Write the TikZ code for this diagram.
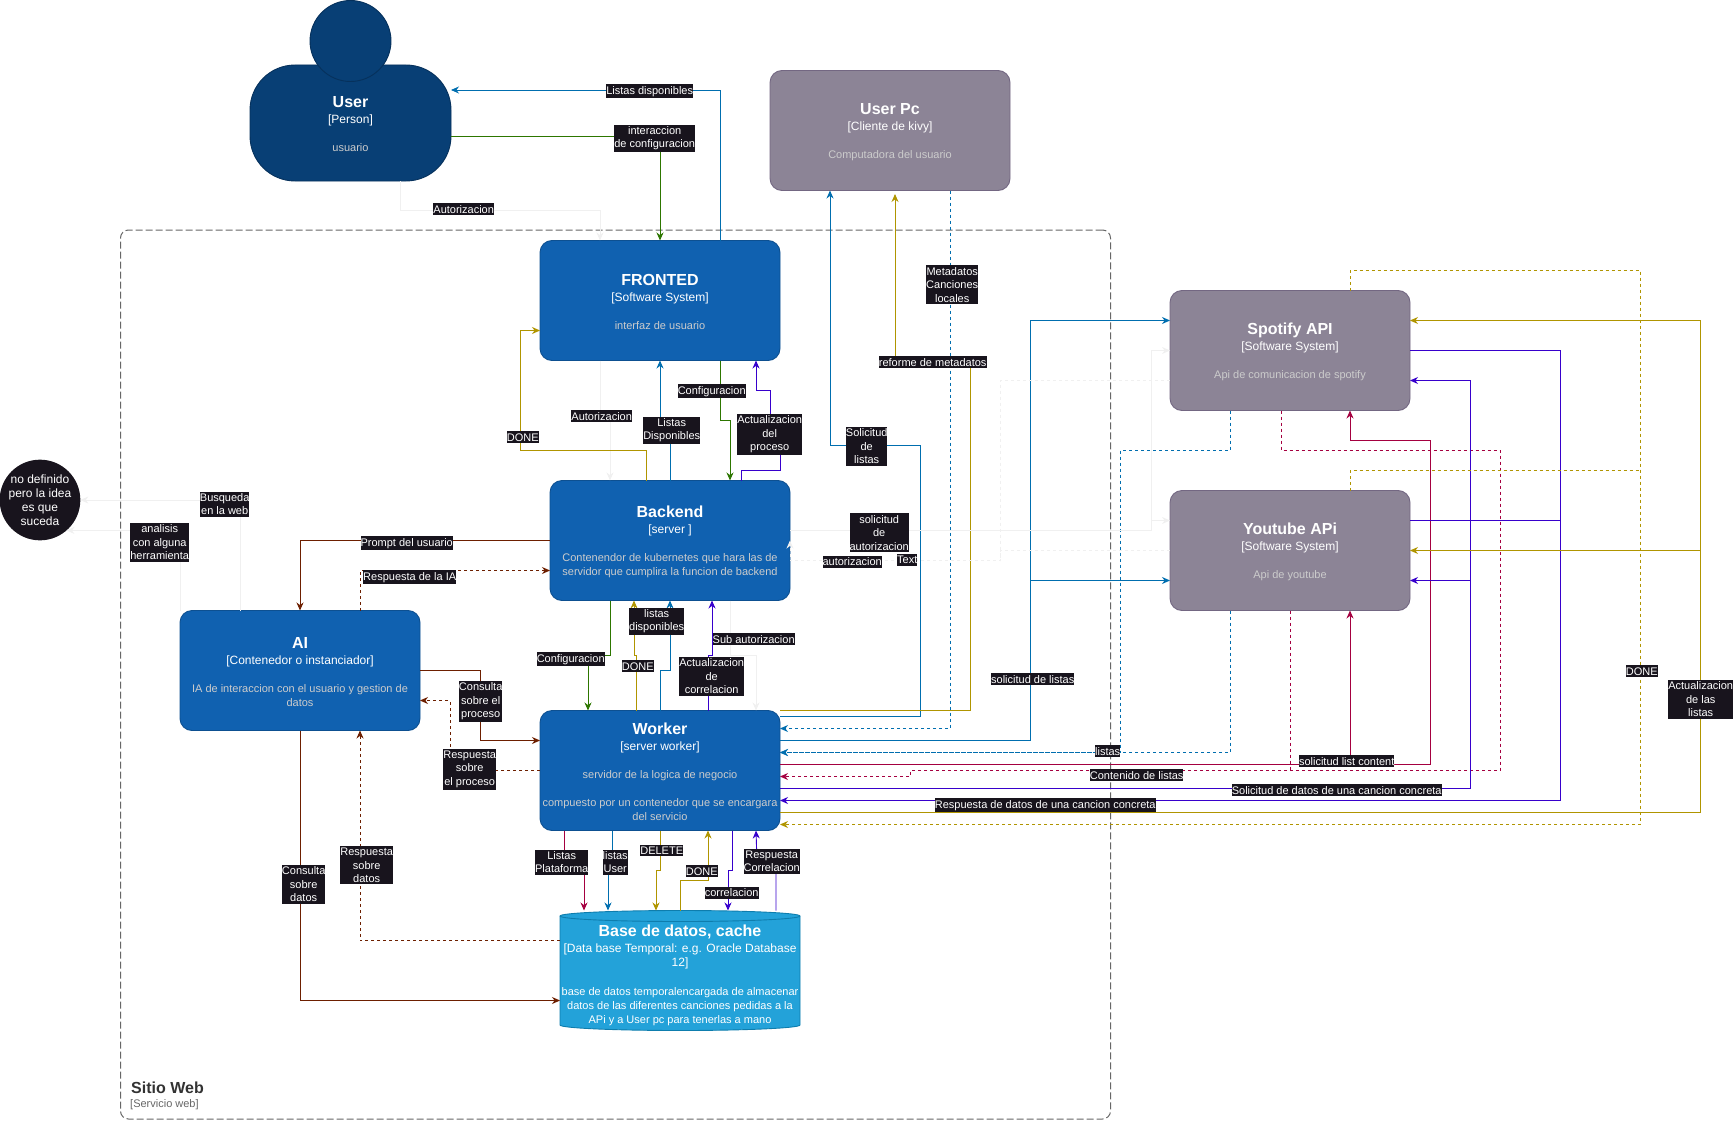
\documentclass[tikz,border=0pt]{standalone}
\usepackage{fontspec}
\setmainfont{Liberation Sans}
\usetikzlibrary{arrows.meta}
\colorlet{descgrey}{white!80!black}
\definecolor{sysfill}{HTML}{1061B0}
\definecolor{sysline}{HTML}{0D5091}
\definecolor{userfill}{HTML}{083F75}
\definecolor{userline}{HTML}{06315C}
\definecolor{extfill}{HTML}{8C8496}
\definecolor{extline}{HTML}{736782}
\definecolor{dbfill}{HTML}{23A2D9}
\definecolor{dbline}{HTML}{0E7DAD}
\definecolor{labelbg}{HTML}{18141D}
\definecolor{lnkblue}{HTML}{006EAF}
\definecolor{lnkgreen}{HTML}{2D7600}
\definecolor{lnkgold}{HTML}{B09500}
\definecolor{lnkpurple}{HTML}{3700CC}
\definecolor{lnkred}{HTML}{A50040}
\definecolor{lnkbrown}{HTML}{6D1F00}
\definecolor{lnkgrey}{HTML}{F0F0F0}
\newcommand{\ttlfont}{\fontsize{16}{18}\selectfont\bfseries}
\newcommand{\typefont}{\fontsize{12}{14}\selectfont}
\newcommand{\descfont}{\fontsize{11}{14}\selectfont}
\newcommand{\boxtext}[3]{{\ttlfont\color{white}\rule{0pt}{13.5pt}#1}\\[2pt]{\typefont\color{white}#2}\\[14pt]#3}
\tikzset{
  sysbox/.style={draw=sysline, line width=0.9pt, fill=sysfill, shape=rectangle, rounded corners=12pt, minimum width=240pt, minimum height=120pt, inner sep=0pt, outer sep=0pt, align=center, text=descgrey, font=\descfont},
  extbox/.style={sysbox, draw=extline, fill=extfill},
  lnk/.style={line width=0.9pt, -{Stealth[length=8pt,width=7pt]}},
  lnkplain/.style={line width=0.9pt},
  dashlnk/.style={dash pattern=on 3pt off 3pt},
  lbl/.style={fill=labelbg, text=white, inner xsep=0pt, inner ysep=2pt, align=center, xshift=0.7pt, yshift=-0.3pt, font=\fontsize{11}{13.3}\selectfont},
}

\begin{document}
\begin{tikzpicture}[x=1pt,y=-1pt]
\useasboundingbox (0,0) rectangle (1735,1121);

\node[draw=black!60, line width=1pt, rounded corners=8pt, dash pattern=on 7pt off 3pt, minimum width=990pt, minimum height=889pt, inner sep=0pt, outer sep=0pt]
(sitio) at (615.5,674.5) {};
\node[anchor=west, inner sep=0pt, text=black!80, font=\ttlfont] (sitioname) at (131,1088) {Sitio Web};
\node[anchor=west, inner sep=0pt, text=black!60, font=\descfont] (sitiotype) at (130,1104.5) {[Servicio web]};

\node[sysbox, draw=userline, fill=userfill, rounded corners=45pt, minimum width=201pt, minimum height=116pt]
(user) at (350.5,123) {\boxtext{User}{[Person]}{usuario}};
\node[draw=userline, line width=0.9pt, fill=userfill, shape=circle, minimum size=81pt, inner sep=0pt, outer sep=0pt] (userhead) at (350.5,41) {};
\node[extbox] (userpc) at (890,130.5) {\boxtext{User Pc}{[Cliente de kivy]}{Computadora del usuario}};
\node[sysbox] (fronted) at (660,300.5) {\boxtext{FRONTED}{[Software System]}{interfaz de usuario}};
\node[sysbox] (backend) at (670,540.5) {\boxtext{Backend}{[server ]}{Contenendor de kubernetes que hara las de\\servidor que cumplira la funcion de backend}};
\node[sysbox] (ai) at (300,670.5) {\boxtext{AI}{[Contenedor o instanciador]}{IA de interaccion con el usuario y gestion de\\datos}};
\node[sysbox] (worker) at (660,770.5) {\boxtext{Worker}{[server worker]}{servidor de la logica de negocio\\[14pt]compuesto por un contenedor que se encargara\\del servicio}};
\node[minimum width=240pt, minimum height=120pt, inner sep=0pt, outer sep=0pt] (db) at (680,970.5) {};
\draw[draw=dbline, line width=0.9pt, fill=dbfill] ([yshift=-5.5pt]db.north west) arc[start angle=180, end angle=0, x radius=120pt, y radius=5.5pt] -- ([yshift=5.5pt]db.south east) arc[start angle=0, end angle=-180, x radius=120pt, y radius=5.5pt] -- cycle;
\draw[draw=dbline, line width=0.9pt] ([yshift=-5.5pt]db.north west) arc[start angle=180, end angle=360, x radius=120pt, y radius=5.5pt];
\node[align=center, text=white, inner sep=0pt, font=\descfont] (dbtext) at (680,975.5) {{\ttlfont Base de datos, cache}\\[2pt]{\typefont [Data base Temporal: e.g. Oracle Database}\\{\typefont 12]}\\[15pt]base de datos temporalencargada de almacenar\\datos de las diferentes canciones pedidas a la\\APi y a User pc para tenerlas a mano};
\node[extbox] (spotify) at (1290,350.5) {\boxtext{Spotify API}{[Software System]}{Api de comunicacion de spotify}};
\node[extbox] (youtube) at (1290,550.5) {\boxtext{Youtube APi}{[Software System]}{Api de youtube}};
\node[fill=labelbg, shape=circle, minimum size=80pt, inner sep=0pt, outer sep=0pt, align=center, text=white, font=\typefont] (nodef) at (40,500) {no definido\\pero la idea\\es que\\suceda};

% user and fronted
\draw[lnk,lnkblue] ([xshift=60pt]fronted.north) |- ([yshift=33pt]user.east);
\draw[lnk,lnkgreen] ([yshift=-13pt]user.east) -| (fronted.north);
\draw[lnk,lnkgrey] ([xshift=50pt]user.south) |- (600,210) -- ([xshift=-60pt]fronted.north);

% fronted and backend
\draw[lnk,lnkgrey] ([xshift=-60pt]fronted.south) |- (610,420) -- ([xshift=-60pt]backend.north);
\draw[lnk,lnkblue] (backend.north) |- (660,420) -- (fronted.south);
\draw[lnk,lnkgreen] ([xshift=60pt]fronted.south) |- (730,420) -- ([xshift=60pt]backend.north);
\draw[lnk,lnkpurple] ([xshift=71pt]backend.north) |- (780,470) -- (780,434) -- (770,434) |- (756,390) -- ([xshift=96pt]fronted.south);
\draw[lnk,lnkgold] ([xshift=-24pt]backend.north) |- (520,450) |- ([yshift=-30pt]fronted.west);

% not defined
\draw[lnk,lnkgrey] ([xshift=-60pt]ai.north) |- (nodef.east);
\draw[lnk,lnkgrey] ([xshift=-120pt]ai.north) |- (nodef.-49);

% ai
\draw[lnk,lnkbrown] (backend.west) -| (ai.north);
\draw[lnk,lnkbrown,dashlnk] ([xshift=60pt]ai.north) |- ([yshift=-30pt]backend.west);
\draw[lnk,lnkbrown] (ai.east) -| (480,740.5) -- ([yshift=30pt]worker.west);
\draw[lnk,lnkbrown,dashlnk] (worker.west) -| (450,700.5) -- ([yshift=-30pt]ai.east);
\draw[lnk,lnkbrown] (ai.south) |- ([yshift=-30pt]db.west);
\draw[lnk,lnkbrown,dashlnk] ([yshift=30pt]db.west) -| ([xshift=60pt]ai.south);

% backend and worker
\draw[lnk,lnkgreen] ([xshift=-60pt]backend.south) |- (588,655.5) -- ([xshift=-72pt]worker.north);
\draw[lnk,lnkgold] ([xshift=-24pt]worker.north) -- (636,655.5) -- (634,655.5) -- ([xshift=-36pt]backend.south);
\draw[lnk,lnkblue] (worker.north) |- (670,670) -- (backend.south);
\draw[lnk,lnkpurple] ([xshift=48pt]worker.north) |- (712,655.5) -- ([xshift=42pt]backend.south);
\draw[lnk,lnkgrey] ([xshift=60pt]backend.south) |- (756,655.5) -- ([xshift=96pt]worker.north);

% worker and database
\draw[lnk,lnkred] ([xshift=-96pt]worker.south) |- (584,862) -- ([xshift=-96pt]db.north);
\draw[lnk,lnkblue] ([xshift=-48pt]worker.south) |- (608,862) -- ([xshift=-72pt]db.north);
\draw[lnk,lnkgold] (worker.south) |- (656,870) -- ([xshift=-24pt]db.north);
\draw[lnk,lnkgold] (db.north) |- (708,880) -- ([xshift=48pt]worker.south);
\draw[lnk,lnkpurple] ([xshift=72pt]worker.south) |- (728,870) -- ([xshift=48pt]db.north);
\draw[lnk,lnkpurple] ([xshift=96pt]db.north) |- (757,862) -- ([xshift=96pt]worker.south);

% user pc
\draw[lnk,lnkblue] ([yshift=54pt]worker.east) -| (920,445) -| ([xshift=-60pt]userpc.south);
\draw[lnk,lnkgold] ([yshift=60pt]worker.east) -| (970,362) -| ([xshift=5pt,yshift=-3.5pt]userpc.south);
\draw[lnk,lnkblue,dashlnk] ([xshift=60pt]userpc.south) |- ([yshift=42pt]worker.east);

% external systems
\draw[lnk,lnkblue] ([yshift=30pt]worker.east) -- (1030,740.5) |- ([yshift=30pt]spotify.west);
\draw[lnk,lnkblue] (1030,740.5) |- ([yshift=-30pt]youtube.west);
\draw[lnk,lnkblue,dashlnk] ([xshift=-60pt]spotify.south) |- (1120,450) |- ([yshift=18pt]worker.east);
\draw[lnk,lnkblue,dashlnk] ([xshift=-60pt]youtube.south) |- ([yshift=18pt]worker.east);
\draw[lnk,lnkred] ([yshift=6pt]worker.east) -- (1430,764.5) |- (1350,440) -- ([xshift=60pt]spotify.south);
\draw[lnk,lnkred] (1350,764.5) -- ([xshift=60pt]youtube.south);
\draw[lnk,lnkred,dashlnk] ([xshift=-9pt]spotify.south) |- (1500,450) |- (910,770.5) |- ([yshift=-6pt]worker.east);
\draw[lnkplain,lnkred,dashlnk] (youtube.south) -- (1290,770.5);
\draw[lnk,lnkpurple] ([yshift=-18pt]worker.east) -- (1470,788.5) |- ([yshift=-30pt]spotify.east);
\draw[lnk,lnkpurple] (1470,580.5) -- ([yshift=-30pt]youtube.east);
\draw[lnk,lnkpurple] (spotify.east) -- (1560,350.5) |- ([yshift=-30pt]worker.east);
\draw[lnkplain,lnkpurple] ([yshift=30pt]youtube.east) -- (1560,520.5);
\draw[lnk,lnkgold] ([yshift=-42pt]worker.east) -| (1700,320.5) -- ([yshift=30pt]spotify.east);
\draw[lnk,lnkgold] (1700,550.5) -- (youtube.east);
\draw[lnk,lnkgold,dashlnk] ([xshift=60pt]spotify.north) |- (1640,270) |- ([yshift=-54pt]worker.east);
\draw[lnkplain,lnkgold,dashlnk] ([xshift=60pt]youtube.north) |- (1640,470);

% autorizacion
\draw[lnk,lnkgrey] ([yshift=10pt]backend.east) -| (1151,350.5) -- (spotify.west);
\draw[lnk,lnkgrey] (1151,520.5) -- ([yshift=30pt]youtube.west);
\draw[lnk,lnkgrey,dashlnk] ([yshift=-30pt]spotify.west) -| (1000,560.5) -| (backend.east);
\draw[lnkplain,lnkgrey,dashlnk] (youtube.west) -| (1000,560.5);

% labels
\node[lbl] (lblA) at (649,91) {Listas disponibles};
\node[lbl] (lblB) at (654,138) {interaccion\\de configuracion};
\node[lbl] (lblC) at (463,209) {Autorizacion};
\node[lbl] (lblD) at (601,416) {Autorizacion};
\node[lbl] (lblE) at (671,430) {Listas\\Disponibles};
\node[lbl] (lblF) at (711,391) {Configuracion};
\node[lbl] (lblG) at (769,434) {Actualizacion\\del\\proceso};
\node[lbl] (lblH) at (522,437) {DONE};
\node[lbl] (lblI) at (224,504) {Busqueda\\en la web};
\node[lbl] (lblJ) at (159,542) {analisis\\con alguna\\herramienta};
\node[lbl] (lblK) at (406,543) {Prompt del usuario};
\node[lbl] (lblL) at (409,577) {Respuesta de la IA};
\node[lbl] (lblM) at (480,701) {Consulta\\sobre el\\proceso};
\node[lbl] (lblN) at (469,769) {Respuesta\\sobre\\el proceso};
\node[lbl] (lblO) at (303,884) {Consulta\\sobre\\datos};
\node[lbl] (lblP) at (366,865) {Respuesta\\sobre\\datos};
\node[lbl] (lblQ) at (570,659) {Configuracion};
\node[lbl] (lblR) at (637,666) {DONE};
\node[lbl] (lblS) at (656,621) {listas\\disponibles};
\node[lbl] (lblT) at (711,676) {Actualizacion\\de\\correlacion};
\node[lbl] (lblU) at (753,639) {Sub autorizacion};
\node[lbl] (lblV) at (561,862) {Listas\\Plataforma};
\node[lbl] (lblW) at (614.5,862) {listas\\User};
\node[lbl] (lblX) at (661,850) {DELETE};
\node[lbl] (lblY) at (701,871) {DONE};
\node[lbl] (lblZ) at (731,892.5) {correlacion};
\node[lbl] (lblAA) at (771,861) {Respuesta\\Correlacion};
\node[lbl] (lblAB) at (866,446) {Solicitud\\de\\listas};
\node[lbl] (lblAC) at (932,362) {reforme de metadatos};
\node[lbl] (lblAD) at (951.5,284.5) {Metadatos\\Canciones\\locales};
\node[lbl] (lblAE) at (878.5,532.5) {solicitud\\de\\autorizacion};
\node[lbl] (lblAF) at (851.5,561.5) {autorizacion};
\node[lbl] (lblAG) at (906.5,559.5) {Text};
\node[lbl] (lblAH) at (1032,679) {solicitud de listas};
\node[lbl] (lblAI) at (1107,751) {listas};
\node[lbl] (lblAJ) at (1346,761) {solicitud list content};
\node[lbl] (lblAK) at (1136,775) {Contenido de listas};
\node[lbl] (lblAL) at (1336,790) {Solicitud de datos de una cancion concreta};
\node[lbl] (lblAM) at (1044.5,805) {Respuesta de datos de una cancion concreta};
\node[lbl] (lblAN) at (1641,671) {DONE};
\node[lbl] (lblAO) at (1700,699) {Actualizacion\\de las\\listas};

\end{tikzpicture}
\end{document}
